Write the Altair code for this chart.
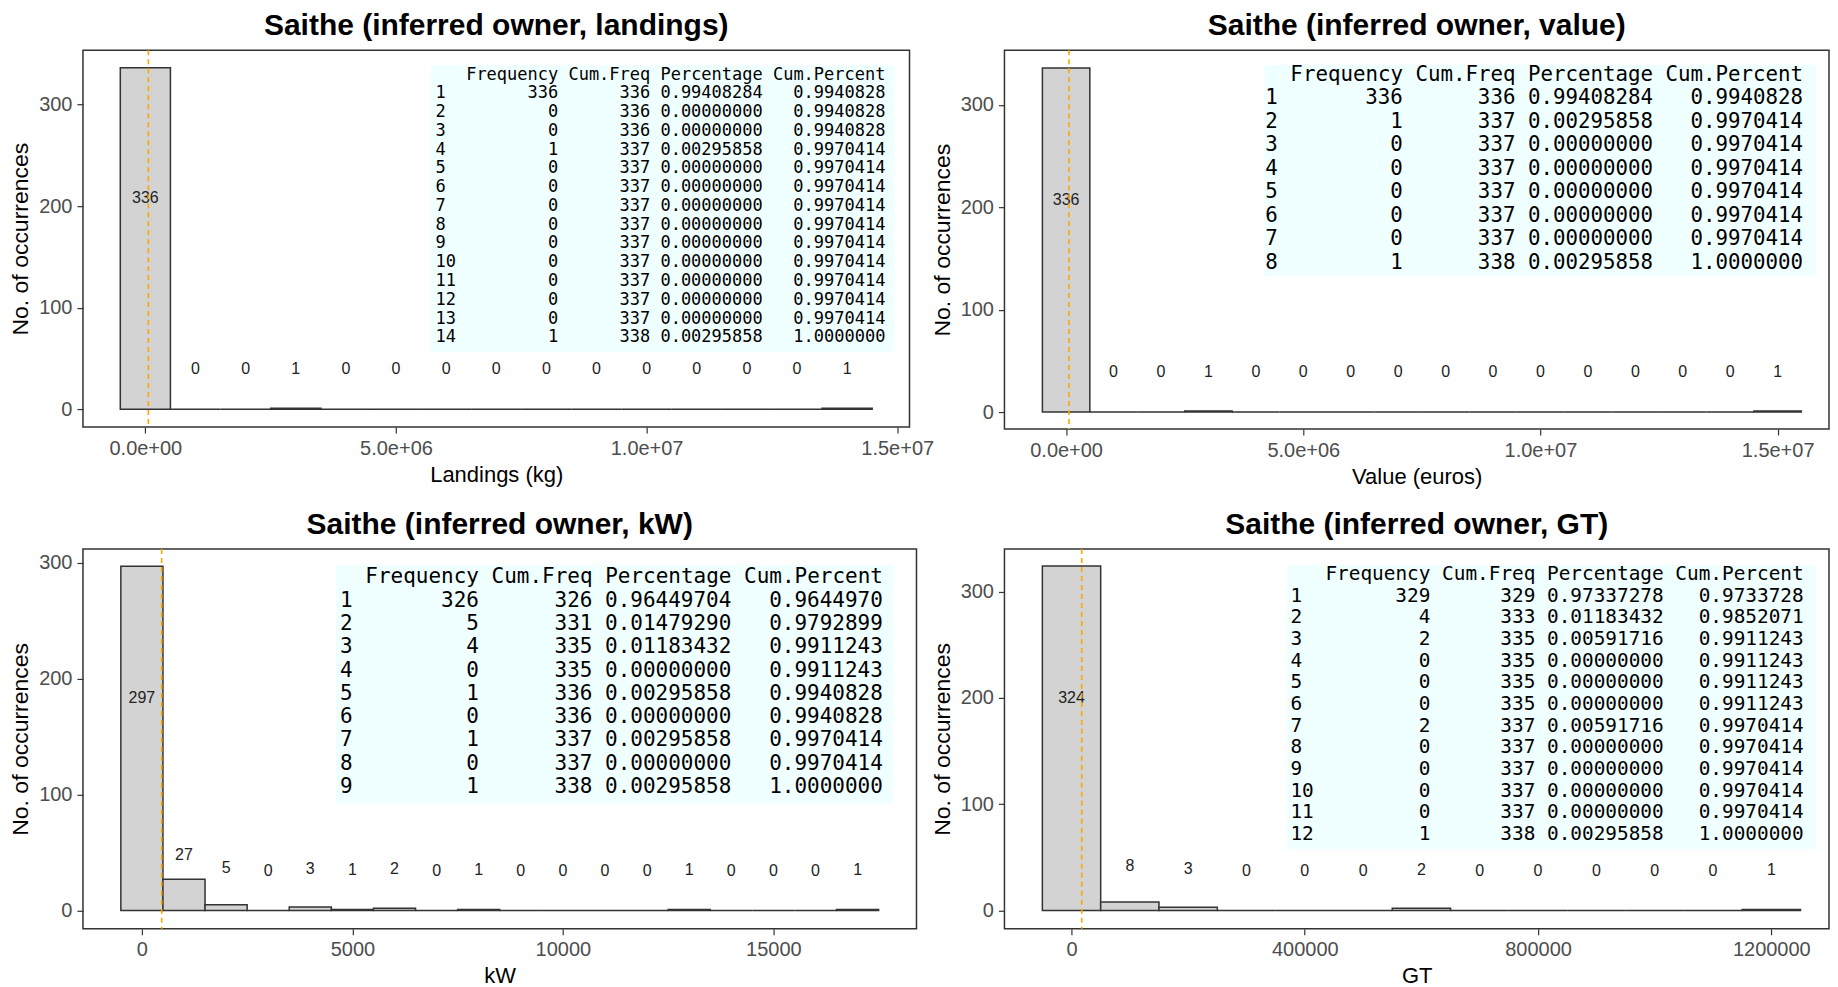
import altair as alt
import pandas as pd

# ---------------- data ----------------
# histogram bin centres and counts
land_centers = [0, 1e6, 2e6, 3e6, 4e6, 5e6, 6e6, 7e6, 8e6, 9e6, 10e6, 11e6, 12e6, 13e6, 14e6]
land_counts = [336, 0, 0, 1, 0, 0, 0, 0, 0, 0, 0, 0, 0, 0, 1]

value_centers = [0, 1e6, 2e6, 3e6, 4e6, 5e6, 6e6, 7e6, 8e6, 9e6, 10e6, 11e6, 12e6, 13e6, 14e6, 15e6]
value_counts = [336, 0, 0, 1, 0, 0, 0, 0, 0, 0, 0, 0, 0, 0, 0, 1]

kw_centers = [0, 1000, 2000, 3000, 4000, 5000, 6000, 7000, 8000, 9000, 10000, 11000,
              12000, 13000, 14000, 15000, 16000, 17000]
kw_counts = [297, 27, 5, 0, 3, 1, 2, 0, 1, 0, 0, 0, 0, 1, 0, 0, 0, 1]

gt_centers = [0, 100000, 200000, 300000, 400000, 500000, 600000, 700000, 800000,
              900000, 1000000, 1100000, 1200000]
gt_counts = [324, 8, 3, 0, 0, 0, 2, 0, 0, 0, 0, 0, 1]

# mean reference lines (dashed orange)
land_mean = 60000
value_mean = 60000
kw_mean = 470
gt_mean = 17500

# frequency tables
land_freq = [336, 0, 0, 1, 0, 0, 0, 0, 0, 0, 0, 0, 0, 1]
value_freq = [336, 1, 0, 0, 0, 0, 0, 1]
kw_freq = [326, 5, 4, 0, 1, 0, 1, 0, 1]
gt_freq = [329, 4, 2, 0, 0, 0, 2, 0, 0, 0, 0, 1]

# titles / labels
titles = ["Saithe (inferred owner, landings)", "Saithe (inferred owner, value)",
          "Saithe (inferred owner, kW)", "Saithe (inferred owner, GT)"]
xlabels = ["Landings (kg)", "Value (euros)", "kW", "GT"]
ylabel = "No. of occurrences"
table_header = "Frequency Cum.Freq Percentage Cum.Percent"
sci_ticks = [0, 5e6, 1e7, 1.5e7]
kw_ticks = [0, 5000, 10000, 15000]
gt_ticks = [0, 400000, 800000, 1200000]
y_ticks = [0, 100, 200, 300]

FONT = "Liberation Sans"
MONO = "DejaVu Sans Mono"
MONO_ADV = 0.6021  # advance width of DejaVu Sans Mono, in em
NB = "\u00a0"


def table_rows(freq):
    total = sum(freq)
    namew = len(str(len(freq)))
    rows = []
    cum = 0
    for i, f in enumerate(freq, start=1):
        cum += f
        rows.append(f"{str(i):<{namew}} {f:>9} {cum:>8} {f / total:>10.8f} {cum / total:>11.7f}")
    return namew, [r.replace(" ", NB) for r in rows]


def panel(title, xlabel, centers, counts, binw, mean, freq, xdom, ydom, w, h,
          xticks, sci, lab_off, tbl):
    df = pd.DataFrame({"c": centers, "n": counts})
    df["x0"] = df["c"] - binw / 2
    df["x1"] = df["c"] + binw / 2
    df["y0"] = 0
    df["ly"] = df["n"] / 2 + lab_off

    if sci:
        xaxis = alt.Axis(values=xticks, title=xlabel,
                         labelExpr="replace(format(datum.value, '.1e'), 'e+', 'e+0')")
    else:
        xaxis = alt.Axis(values=xticks, title=xlabel, format="d")
    xs = alt.Scale(domain=xdom, nice=False, zero=False)
    ys = alt.Scale(domain=ydom, nice=False, zero=False)
    yaxis = alt.Axis(values=y_ticks, title=ylabel)

    # table background
    (tx0, tx1, ty0, ty1, textx, heady, pitch, fsize) = tbl
    tb = pd.DataFrame({"x0": [tx0], "x1": [tx1], "y0": [ty0], "y1": [ty1]})
    tbg = alt.Chart(tb).mark_rect(fill="#F0FFFF").encode(
        x=alt.X("x0:Q", scale=xs, axis=xaxis), x2="x1:Q",
        y=alt.Y("y0:Q", scale=ys, axis=yaxis), y2="y1:Q")

    namew, rows = table_rows(freq)
    tt = pd.DataFrame({"s": rows,
                       "x": [textx] * len(rows),
                       "y": [heady - (i + 1) * pitch for i in range(len(rows))]})
    ttext = alt.Chart(tt).mark_text(font=MONO, fontSize=fsize, align="left",
                                    baseline="middle", color="#000000").encode(
        x="x:Q", y="y:Q", text="s:N")
    th = pd.DataFrame({"s": [table_header.replace(" ", NB)], "x": [textx], "y": [heady]})
    thead = alt.Chart(th).mark_text(font=MONO, fontSize=fsize, align="left",
                                    baseline="middle", color="#000000",
                                    dx=(namew + 1) * MONO_ADV * fsize).encode(
        x="x:Q", y="y:Q", text="s:N")

    bars = alt.Chart(df).mark_rect(fill="#D3D3D3", stroke="#333333", strokeWidth=1.5).encode(
        x="x0:Q", x2="x1:Q", y="y0:Q", y2="n:Q")
    labels = alt.Chart(df).mark_text(font=FONT, fontSize=16, color="#222222",
                                     baseline="middle", align="center").encode(
        x="c:Q", y="ly:Q", text="n:Q")
    rule = alt.Chart(pd.DataFrame({"m": [mean]})).mark_rule(
        color="#FFA500", strokeDash=[5, 4], strokeWidth=1.6).encode(x="m:Q")

    return alt.layer(tbg, ttext, thead, bars, labels, rule).properties(
        width=w, height=h, title=alt.Title(title))


tl = panel(titles[0], xlabels[0], land_centers, land_counts, 1e6, land_mean, land_freq,
           [-1.245e6, 15.245e6], [-17.5, 353.3], 827, 377, sci_ticks, True, 39.5,
           (5.694e6, 14.946e6, 55.97, 338.5, 5.788e6, 329.4, 18.47, 17))
tr = panel(titles[1], xlabels[1], value_centers, value_counts, 1e6, value_mean, value_freq,
           [-1.3e6, 16.083e6], [-16.6, 353.3], 825, 379, sci_ticks, True, 38.8,
           (4.183e6, 15.807e6, 132.7, 339.25, 4.20e6, 329.2, 22.94, 20.8))
bl = panel(titles[2], xlabels[2], kw_centers, kw_counts, 1000, kw_mean, kw_freq,
           [-1400, 18400], [-15.7, 312], 834, 380, kw_ticks, False, 34.5,
           (4606, 17841, 92.1, 298.2, 4706, 287.6, 20.12, 21))
br = panel(titles[3], xlabels[3], gt_centers, gt_counts, 100000, gt_mean, gt_freq,
           [-115000, 1298900], [-17.2, 340], 825, 380, gt_ticks, False, 37.5,
           (369150, 1276400, 57.3, 325, 375300, 316.5, 20.37, 19.4))

chart = alt.ConcatChart(
    concat=[tl, tr, bl, br], columns=2,
    spacing=alt.RowColnumber(row=120, column=88), bounds="flush"
).properties(
    padding={"left": 0, "top": 2, "right": 0, "bottom": 0}
).configure_view(
    stroke="#333333", strokeWidth=1.5
).configure_axis(
    grid=False, domain=False,
    labelFont=FONT, labelFontSize=20, labelColor="#4D4D4D", labelPadding=5,
    labelFlush=False, labelOverlap=False,
    tickColor="#333333", tickSize=6, tickWidth=1.2,
    titleFont=FONT, titleFontSize=22, titleFontWeight="normal", titleColor="#000000",
    titlePadding=6
).configure_axisY(
    titleFontSize=23, titlePadding=6
).configure_title(
    font=FONT, fontSize=30, fontWeight="bold", color="#000000", anchor="middle",
    frame="group", offset=8
)

chart.save("out.html", embed_options={"renderer": "svg", "actions": False})
